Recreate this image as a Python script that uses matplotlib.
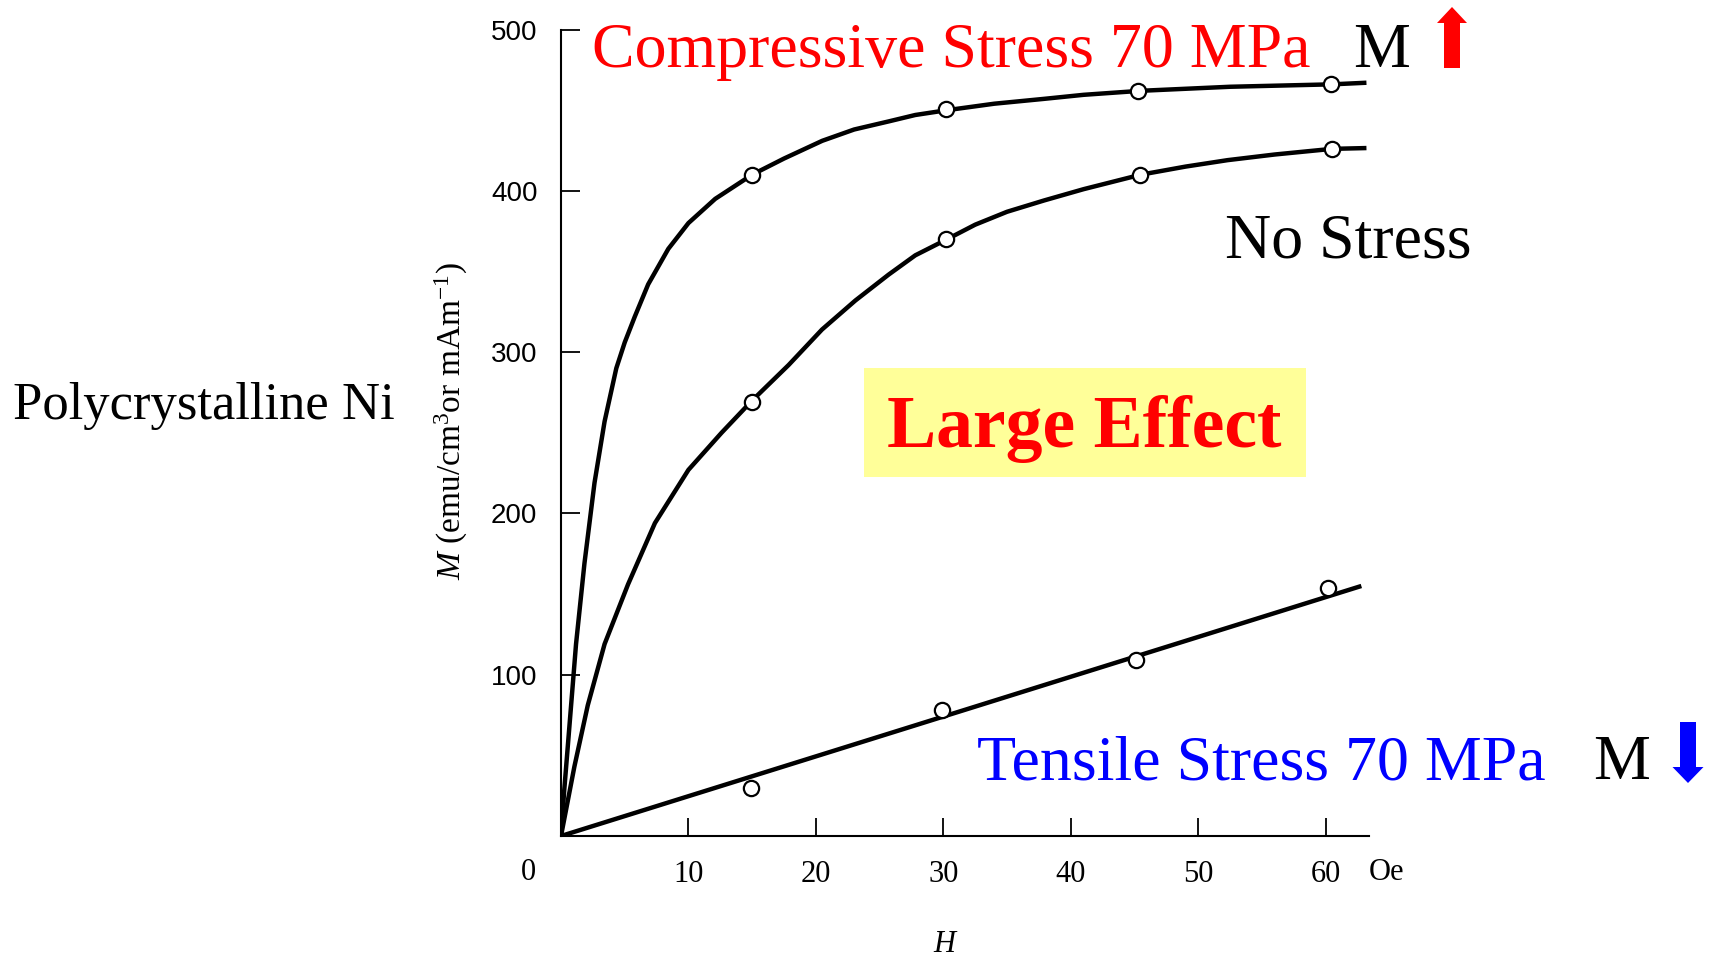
import matplotlib
matplotlib.use("Agg")
import matplotlib.pyplot as plt
import matplotlib.transforms as mtransforms
from matplotlib.patches import FancyArrow, Rectangle

plt.rcParams["mathtext.fontset"] = "custom"
plt.rcParams["mathtext.rm"] = "Liberation Serif"
plt.rcParams["mathtext.it"] = "Liberation Serif:italic"

# curves (H in Oe, M in emu/cm3)
comp_h = [0, 0.25, 0.66, 1.18, 1.84, 2.63, 3.42, 4.34, 5.0, 5.79, 6.84, 8.42,
          10.0, 12.1, 15.0, 17.5, 20.5, 23.0, 25.7, 27.8, 30.3, 34.0, 37.9,
          41.0, 45.5, 52.5, 60.5, 63.2]
comp_m = [0, 28, 68, 119, 169, 219, 257, 290, 306, 322, 342, 364,
          380, 395, 410, 420, 431, 438, 443, 447, 450, 454, 457,
          459.5, 462, 464.5, 466, 467]

free_h = [0, 1.05, 2.1, 3.42, 5.26, 7.37, 10.0, 12.6, 15.0, 17.86, 20.48,
          23.1, 25.7, 27.8, 30.3, 32.5, 35.0, 37.9, 41.0, 45.5, 49.0, 52.3,
          56.0, 60.5, 63.2]
free_m = [0, 43, 81, 119, 156, 194, 227, 250, 270, 292, 314,
          332, 348, 360, 370, 379, 387, 394, 401, 410, 415, 419,
          422.5, 426, 426.5]

tens_h = [0, 62.8]
tens_m = [0, 155]

# measured points
comp_pts_h = [15.0, 30.2, 45.3, 60.4]
comp_pts_m = [410, 451, 462, 466]
free_pts_h = [15.0, 30.2, 45.4, 60.5]
free_pts_m = [269, 370, 410, 426]
tens_pts_h = [14.9, 29.9, 45.1, 60.2]
tens_pts_m = [30, 78, 109, 154]

x_ticks = [10, 20, 30, 40, 50, 60]
y_ticks = [100, 200, 300, 400, 500]

W, H = 1711, 960
fig = plt.figure(figsize=(W / 100, H / 100), dpi=100)
ax = fig.add_axes([561 / W, 1 - 836 / H, 808 / W, 806.5 / H])

line_kw = dict(color="black", lw=3.2, solid_capstyle="butt", solid_joinstyle="round")
mark_kw = dict(ls="none", marker="o", ms=11, mfc="white", mec="black", mew=1.6, zorder=5)
ax.plot(comp_h, comp_m, **line_kw)
ax.plot(free_h, free_m, **line_kw)
ax.plot(tens_h, tens_m, **line_kw)
ax.plot(comp_pts_h, comp_pts_m, **mark_kw)
ax.plot(free_pts_h, free_pts_m, **mark_kw)
ax.plot(tens_pts_h, tens_pts_m, **mark_kw)

ax.set_xlim(0, 63.4)
ax.set_ylim(0, 500)
for s in ["top", "right"]:
    ax.spines[s].set_visible(False)
for s in ["left", "bottom"]:
    ax.spines[s].set_linewidth(1.5)

ax.set_xticks(x_ticks)
ax.set_xticklabels([str(v) for v in x_ticks], family="Liberation Serif", fontsize=22)
ax.set_yticks(y_ticks)
ax.set_yticklabels([str(v) for v in y_ticks], family="Liberation Sans", fontsize=20)
ax.tick_params(axis="x", direction="in", length=13, width=1.3, pad=17)
ax.tick_params(axis="y", direction="in", length=14, width=1.3, pad=17)


def ftext(x, y, s, **kw):
    fig.text(x / W, 1 - y / H, s, **kw)


serif = "Liberation Serif"
ftext(528, 873, "0", family=serif, fontsize=22, ha="center", va="center")
ftext(1386, 873, "Oe", family=serif, fontsize=22, ha="center", va="center")
ftext(944, 945, "H", family=serif, style="italic", fontsize=22, ha="center", va="center")
ftext(451, 421, r"$M$ (emu/cm$^3$or mAm$^{-1}$)", family=serif, fontsize=24,
      rotation=90, ha="center", va="center")

ftext(592, 67, "Compressive Stress 70 MPa", family=serif, fontsize=46, color="#ff0000", va="baseline")
ftext(1353, 67, "M", family=serif, fontsize=46, color="black", va="baseline")
ftext(1225, 257, "No Stress", family=serif, fontsize=46, color="black", va="baseline")
ftext(977, 779, "Tensile Stress 70 MPa", family=serif, fontsize=46, color="#0000ff", va="baseline")
ftext(1593, 779, "M", family=serif, fontsize=46, color="black", va="baseline")
ftext(13, 419, "Polycrystalline Ni", family=serif, fontsize=38, color="black", va="baseline")

ident = mtransforms.IdentityTransform()
fig.patches.append(Rectangle((864, H - 477), 442, 109, transform=ident,
                             facecolor="#ffff99", edgecolor="none", zorder=1))
ftext(1084, 447, "Large Effect", family=serif, weight="bold", fontsize=53,
      color="#ff0000", ha="center", va="baseline", zorder=2)

fig.patches.append(FancyArrow(1452, H - 68, 0, 61, width=16, head_width=30, head_length=16,
                              length_includes_head=True, transform=ident,
                              color="#ff0000", lw=0))
fig.patches.append(FancyArrow(1688, H - 722, 0, -61, width=16, head_width=31, head_length=16,
                              length_includes_head=True, transform=ident,
                              color="#0000ff", lw=0))

fig.savefig("out.png", dpi=100)
